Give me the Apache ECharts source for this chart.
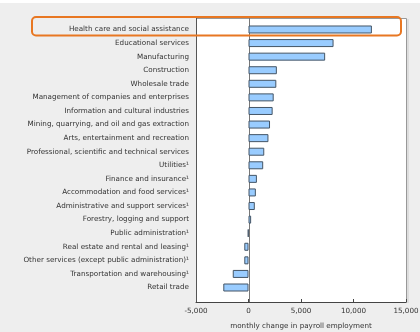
<!DOCTYPE html>
<html><head><meta charset="utf-8">
<script src="https://cdn.jsdelivr.net/npm/echarts@6/dist/echarts.min.js"></script>
<style>html,body{margin:0;padding:0;background:#eeeeee;}#c{width:420px;height:332px;}</style>
</head><body><div id="c"></div>
<script>
const categories = [
  "Health care and social assistance",
  "Educational services",
  "Manufacturing",
  "Construction",
  "Wholesale trade",
  "Management of companies and enterprises",
  "Information and cultural industries",
  "Mining, quarrying, and oil and gas extraction",
  "Arts, entertainment and recreation",
  "Professional, scientific and technical services",
  "Utilities\u00b9",
  "Finance and insurance\u00b9",
  "Accommodation and food services\u00b9",
  "Administrative and support services\u00b9",
  "Forestry, logging and support",
  "Public administration\u00b9",
  "Real estate and rental and leasing\u00b9",
  "Other services (except public administration)\u00b9",
  "Transportation and warehousing\u00b9",
  "Retail trade"
];
const values = [11750, 8100, 7300, 2700, 2650, 2400, 2300, 2050, 1900, 1500, 1400, 800, 700, 600, 250, -50, -400, -400, -1500, -2400];
const xTicks = [-5000, 0, 5000, 10000, 15000];
const axisTitle = "monthly change in payroll employment";

const chart = echarts.init(document.getElementById('c'), null, {renderer: 'canvas'});
const font = 'DejaVu Sans';
const frameTop = 18, frameBottom = 302, frameLeft = 196, frameRight = 406;
chart.setOption({
  animation: false,
  backgroundColor: '#eeeeee',
  grid: {left: frameLeft, right: 420 - frameRight, top: 22.7, bottom: 37.7, show: false,
         containLabel: false, outerBoundsMode: 'none'},
  xAxis: {
    type: 'value', min: xTicks[0], max: xTicks[xTicks.length - 1], interval: 5000,
    offset: 7.7,
    name: axisTitle, nameLocation: 'middle', nameGap: 21,
    nameTextStyle: {fontFamily: font, fontSize: 7.2, color: '#333'},
    axisLine: {show: true, onZero: false, lineStyle: {color: '#444', width: 1}},
    axisTick: {show: true, inside: true, length: 3, lineStyle: {color: '#444'}},
    axisLabel: {fontFamily: font, fontSize: 7.2, color: '#333', margin: 6,
      formatter: v => v.toLocaleString('en-US')},
    splitLine: {show: false}
  },
  yAxis: {
    type: 'category', data: categories, inverse: true,
    axisLine: {show: false},
    axisTick: {show: false},
    axisLabel: {fontFamily: font, fontSize: 7.2, color: '#333', margin: 7},
    splitLine: {show: false}
  },
  series: [{
    type: 'bar', data: values, barWidth: 8, z: 5,
    itemStyle: {color: '#99ccff', borderColor: '#445566', borderWidth: 1}
  }]
});
const zeroX = Math.round(chart.convertToPixel({xAxisIndex: 0}, 0)) + 0.5;
chart.setOption({
  graphic: [
    {type: 'rect', shape: {x: 0, y: 0, width: 420, height: 3}, style: {fill: '#ffffff'}, z: -10},
    {type: 'rect', shape: {x: frameLeft + 0.5, y: frameTop + 0.5, width: frameRight - frameLeft, height: frameBottom - frameTop}, style: {fill: '#ffffff', stroke: '#999999', lineWidth: 1}, z: -5},
    {type: 'line', shape: {x1: frameRight + 2, y1: frameTop + 1, x2: frameRight + 2, y2: frameBottom + 1}, style: {stroke: '#cccccc', lineWidth: 1}, z: -5},
    {type: 'line', shape: {x1: frameLeft + 0.5, y1: frameTop, x2: frameLeft + 0.5, y2: frameBottom}, style: {stroke: '#555', lineWidth: 1}, z: 1},
    {type: 'line', shape: {x1: zeroX, y1: frameTop, x2: zeroX, y2: frameBottom}, style: {stroke: '#777', lineWidth: 1}, z: 1},
    {type: 'rect', shape: {x: 32, y: 17, width: 369, height: 18.5, r: 4}, style: {fill: 'none', stroke: '#e87722', lineWidth: 2}, z: 100}
  ]
});
</script></body></html>
